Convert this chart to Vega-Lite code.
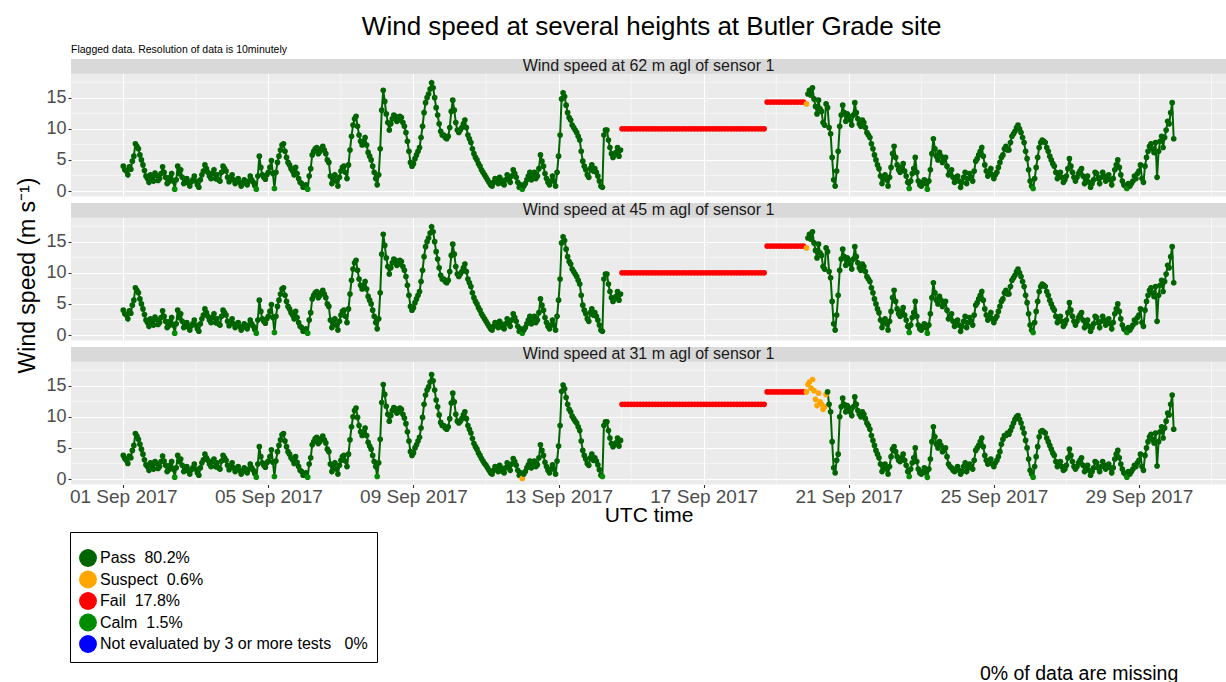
{
"$schema": "https://vega.github.io/schema/vega-lite/v6.json",
"background": "white",
"padding": {"left": 16, "top": 13, "right": 0, "bottom": 0},
"bounds": "flush",
"title": {"text": "Wind speed at several heights at Butler Grade site", "fontSize": 26, "anchor": "middle", "offset": 5, "dx": 30},
"config": {
 "font": "Liberation Sans",
 "view": {"fill": "#EBEBEB", "stroke": null},
 "axis": {"labelFont": "Liberation Sans", "labelFontSize": 18, "labelColor": "#4D4D4D", "tickColor": "#333333", "tickSize": 3, "tickWidth": 1.1, "domain": false, "gridColor": "#FFFFFF", "gridWidth": 1.1, "titleFont": "Liberation Sans", "titleFontSize": 21, "titleFontWeight": "normal", "titleColor": "#000000"},
 "title": {"font": "Liberation Sans", "fontWeight": "normal", "color": "#000000"},
 "legend": {"labelFont": "Liberation Sans", "titleFont": "Liberation Sans"}
},
"spacing": 6,
"resolve": {"scale": {"x": "shared", "y": "shared", "color": "shared"}},
"datasets": {
 "hminor": [{"y": 2.5}, {"y": 7.5}, {"y": 12.5}, {"y": 17.5}],
 "vminor": [{"t": "2017-09-03T00:00Z"}, {"t": "2017-09-07T00:00Z"}, {"t": "2017-09-11T00:00Z"}, {"t": "2017-09-15T00:00Z"}, {"t": "2017-09-19T00:00Z"}, {"t": "2017-09-23T00:00Z"}, {"t": "2017-09-27T00:00Z"}, {"t": "2017-10-01T00:00Z"}],
 "ws": [
{"t":"2017-09-01T00:00Z","a":4.0,"c":3.8,"f":"P","g":"P"},
{"t":"2017-09-01T01:00Z","a":3.4,"c":3.3,"f":"P","g":"P"},
{"t":"2017-09-01T02:00Z","a":3.2,"c":3.0,"f":"P","g":"P"},
{"t":"2017-09-01T03:00Z","a":2.6,"c":2.5,"f":"P","g":"P"},
{"t":"2017-09-01T04:00Z","a":3.9,"c":3.7,"f":"P","g":"P"},
{"t":"2017-09-01T05:00Z","a":3.5,"c":3.4,"f":"P","g":"P"},
{"t":"2017-09-01T06:00Z","a":4.8,"c":4.6,"f":"P","g":"P"},
{"t":"2017-09-01T07:00Z","a":5.6,"c":5.4,"f":"P","g":"P"},
{"t":"2017-09-01T08:00Z","a":7.6,"c":7.3,"f":"P","g":"P"},
{"t":"2017-09-01T09:00Z","a":7.2,"c":6.9,"f":"P","g":"P"},
{"t":"2017-09-01T10:00Z","a":6.8,"c":6.4,"f":"P","g":"P"},
{"t":"2017-09-01T11:00Z","a":5.8,"c":5.6,"f":"P","g":"P"},
{"t":"2017-09-01T12:00Z","a":5.0,"c":4.8,"f":"P","g":"P"},
{"t":"2017-09-01T13:00Z","a":4.2,"c":4.0,"f":"P","g":"P"},
{"t":"2017-09-01T14:00Z","a":3.3,"c":3.1,"f":"P","g":"P"},
{"t":"2017-09-01T15:00Z","a":2.4,"c":2.3,"f":"P","g":"P"},
{"t":"2017-09-01T16:00Z","a":2.0,"c":2.0,"f":"P","g":"P"},
{"t":"2017-09-01T17:00Z","a":1.4,"c":1.4,"f":"P","g":"P"},
{"t":"2017-09-01T18:00Z","a":2.6,"c":2.6,"f":"P","g":"P"},
{"t":"2017-09-01T19:00Z","a":2.2,"c":2.2,"f":"P","g":"P"},
{"t":"2017-09-01T20:00Z","a":1.6,"c":1.6,"f":"P","g":"P"},
{"t":"2017-09-01T21:00Z","a":2.9,"c":2.8,"f":"P","g":"P"},
{"t":"2017-09-01T22:00Z","a":2.5,"c":2.5,"f":"P","g":"P"},
{"t":"2017-09-01T23:00Z","a":1.7,"c":1.7,"f":"P","g":"P"},
{"t":"2017-09-02T00:00Z","a":2.0,"c":2.0,"f":"P","g":"P"},
{"t":"2017-09-02T01:00Z","a":2.8,"c":2.8,"f":"P","g":"P"},
{"t":"2017-09-02T02:00Z","a":3.9,"c":3.7,"f":"P","g":"P"},
{"t":"2017-09-02T03:00Z","a":3.0,"c":2.9,"f":"P","g":"P"},
{"t":"2017-09-02T04:00Z","a":2.2,"c":2.2,"f":"P","g":"P"},
{"t":"2017-09-02T05:00Z","a":1.2,"c":1.2,"f":"P","g":"P"},
{"t":"2017-09-02T06:00Z","a":1.5,"c":1.5,"f":"P","g":"P"},
{"t":"2017-09-02T07:00Z","a":2.2,"c":2.2,"f":"P","g":"P"},
{"t":"2017-09-02T08:00Z","a":2.8,"c":2.8,"f":"P","g":"P"},
{"t":"2017-09-02T09:00Z","a":1.6,"c":1.6,"f":"P","g":"P"},
{"t":"2017-09-02T10:00Z","a":0.3,"c":0.3,"f":"C","g":"C"},
{"t":"2017-09-02T11:00Z","a":1.8,"c":1.8,"f":"P","g":"P"},
{"t":"2017-09-02T12:00Z","a":4.0,"c":3.8,"f":"P","g":"P"},
{"t":"2017-09-02T13:00Z","a":2.8,"c":2.8,"f":"P","g":"P"},
{"t":"2017-09-02T14:00Z","a":3.4,"c":3.2,"f":"P","g":"P"},
{"t":"2017-09-02T15:00Z","a":2.2,"c":2.2,"f":"P","g":"P"},
{"t":"2017-09-02T16:00Z","a":1.2,"c":1.2,"f":"P","g":"P"},
{"t":"2017-09-02T17:00Z","a":1.6,"c":1.6,"f":"P","g":"P"},
{"t":"2017-09-02T18:00Z","a":2.0,"c":2.0,"f":"P","g":"P"},
{"t":"2017-09-02T19:00Z","a":1.3,"c":1.3,"f":"P","g":"P"},
{"t":"2017-09-02T20:00Z","a":0.8,"c":0.8,"f":"P","g":"P"},
{"t":"2017-09-02T21:00Z","a":1.5,"c":1.5,"f":"P","g":"P"},
{"t":"2017-09-02T22:00Z","a":1.8,"c":1.8,"f":"P","g":"P"},
{"t":"2017-09-02T23:00Z","a":2.4,"c":2.4,"f":"P","g":"P"},
{"t":"2017-09-03T00:00Z","a":1.6,"c":1.6,"f":"P","g":"P"},
{"t":"2017-09-03T01:00Z","a":1.0,"c":1.0,"f":"P","g":"P"},
{"t":"2017-09-03T02:00Z","a":0.6,"c":0.6,"f":"P","g":"P"},
{"t":"2017-09-03T03:00Z","a":1.8,"c":1.8,"f":"P","g":"P"},
{"t":"2017-09-03T04:00Z","a":2.6,"c":2.6,"f":"P","g":"P"},
{"t":"2017-09-03T05:00Z","a":3.2,"c":3.1,"f":"P","g":"P"},
{"t":"2017-09-03T06:00Z","a":4.2,"c":4.0,"f":"P","g":"P"},
{"t":"2017-09-03T07:00Z","a":3.6,"c":3.4,"f":"P","g":"P"},
{"t":"2017-09-03T08:00Z","a":3.0,"c":3.0,"f":"P","g":"P"},
{"t":"2017-09-03T09:00Z","a":2.4,"c":2.4,"f":"P","g":"P"},
{"t":"2017-09-03T10:00Z","a":2.0,"c":2.0,"f":"P","g":"P"},
{"t":"2017-09-03T11:00Z","a":2.8,"c":2.8,"f":"P","g":"P"},
{"t":"2017-09-03T12:00Z","a":3.4,"c":3.2,"f":"P","g":"P"},
{"t":"2017-09-03T13:00Z","a":2.0,"c":2.0,"f":"P","g":"P"},
{"t":"2017-09-03T14:00Z","a":2.6,"c":2.6,"f":"P","g":"P"},
{"t":"2017-09-03T15:00Z","a":1.8,"c":1.8,"f":"P","g":"P"},
{"t":"2017-09-03T16:00Z","a":1.6,"c":1.6,"f":"P","g":"P"},
{"t":"2017-09-03T17:00Z","a":3.0,"c":2.9,"f":"P","g":"P"},
{"t":"2017-09-03T18:00Z","a":4.0,"c":3.8,"f":"P","g":"P"},
{"t":"2017-09-03T19:00Z","a":3.6,"c":3.4,"f":"P","g":"P"},
{"t":"2017-09-03T20:00Z","a":3.2,"c":3.0,"f":"P","g":"P"},
{"t":"2017-09-03T21:00Z","a":2.2,"c":2.2,"f":"P","g":"P"},
{"t":"2017-09-03T22:00Z","a":1.5,"c":1.5,"f":"P","g":"P"},
{"t":"2017-09-03T23:00Z","a":2.0,"c":2.0,"f":"P","g":"P"},
{"t":"2017-09-04T00:00Z","a":2.6,"c":2.6,"f":"P","g":"P"},
{"t":"2017-09-04T01:00Z","a":1.8,"c":1.8,"f":"P","g":"P"},
{"t":"2017-09-04T02:00Z","a":1.2,"c":1.2,"f":"P","g":"P"},
{"t":"2017-09-04T03:00Z","a":1.6,"c":1.6,"f":"P","g":"P"},
{"t":"2017-09-04T04:00Z","a":2.0,"c":2.0,"f":"P","g":"P"},
{"t":"2017-09-04T05:00Z","a":1.4,"c":1.4,"f":"P","g":"P"},
{"t":"2017-09-04T06:00Z","a":0.8,"c":0.8,"f":"P","g":"P"},
{"t":"2017-09-04T07:00Z","a":1.2,"c":1.2,"f":"P","g":"P"},
{"t":"2017-09-04T08:00Z","a":1.8,"c":1.8,"f":"P","g":"P"},
{"t":"2017-09-04T09:00Z","a":1.4,"c":1.4,"f":"P","g":"P"},
{"t":"2017-09-04T10:00Z","a":1.0,"c":1.0,"f":"P","g":"P"},
{"t":"2017-09-04T11:00Z","a":1.6,"c":1.6,"f":"P","g":"P"},
{"t":"2017-09-04T12:00Z","a":2.4,"c":2.4,"f":"P","g":"P"},
{"t":"2017-09-04T13:00Z","a":1.8,"c":1.8,"f":"P","g":"P"},
{"t":"2017-09-04T14:00Z","a":1.4,"c":1.4,"f":"P","g":"P"},
{"t":"2017-09-04T15:00Z","a":0.9,"c":0.9,"f":"P","g":"P"},
{"t":"2017-09-04T16:00Z","a":0.3,"c":0.3,"f":"C","g":"C"},
{"t":"2017-09-04T17:00Z","a":2.4,"c":2.4,"f":"P","g":"P"},
{"t":"2017-09-04T18:00Z","a":5.6,"c":5.2,"f":"P","g":"P"},
{"t":"2017-09-04T19:00Z","a":3.8,"c":3.6,"f":"P","g":"P"},
{"t":"2017-09-04T20:00Z","a":2.6,"c":2.6,"f":"P","g":"P"},
{"t":"2017-09-04T21:00Z","a":2.2,"c":2.2,"f":"P","g":"P"},
{"t":"2017-09-04T22:00Z","a":1.9,"c":1.9,"f":"P","g":"P"},
{"t":"2017-09-04T23:00Z","a":2.6,"c":2.6,"f":"P","g":"P"},
{"t":"2017-09-05T00:00Z","a":3.0,"c":2.9,"f":"P","g":"P"},
{"t":"2017-09-05T01:00Z","a":3.8,"c":3.6,"f":"P","g":"P"},
{"t":"2017-09-05T02:00Z","a":4.9,"c":4.7,"f":"P","g":"P"},
{"t":"2017-09-05T03:00Z","a":2.8,"c":2.7,"f":"P","g":"P"},
{"t":"2017-09-05T04:00Z","a":0.4,"c":0.4,"f":"C","g":"C"},
{"t":"2017-09-05T05:00Z","a":3.0,"c":2.9,"f":"P","g":"P"},
{"t":"2017-09-05T06:00Z","a":4.6,"c":4.4,"f":"P","g":"P"},
{"t":"2017-09-05T07:00Z","a":5.6,"c":5.4,"f":"P","g":"P"},
{"t":"2017-09-05T08:00Z","a":6.6,"c":6.3,"f":"P","g":"P"},
{"t":"2017-09-05T09:00Z","a":7.4,"c":7.1,"f":"P","g":"P"},
{"t":"2017-09-05T10:00Z","a":7.6,"c":7.3,"f":"P","g":"P"},
{"t":"2017-09-05T11:00Z","a":6.4,"c":6.1,"f":"P","g":"P"},
{"t":"2017-09-05T12:00Z","a":5.4,"c":5.2,"f":"P","g":"P"},
{"t":"2017-09-05T13:00Z","a":4.6,"c":4.4,"f":"P","g":"P"},
{"t":"2017-09-05T14:00Z","a":4.2,"c":4.0,"f":"P","g":"P"},
{"t":"2017-09-05T15:00Z","a":3.6,"c":3.4,"f":"P","g":"P"},
{"t":"2017-09-05T16:00Z","a":3.2,"c":3.1,"f":"P","g":"P"},
{"t":"2017-09-05T17:00Z","a":2.6,"c":2.5,"f":"P","g":"P"},
{"t":"2017-09-05T18:00Z","a":3.8,"c":3.6,"f":"P","g":"P"},
{"t":"2017-09-05T19:00Z","a":2.8,"c":2.7,"f":"P","g":"P"},
{"t":"2017-09-05T20:00Z","a":2.0,"c":2.0,"f":"P","g":"P"},
{"t":"2017-09-05T21:00Z","a":1.4,"c":1.4,"f":"P","g":"P"},
{"t":"2017-09-05T22:00Z","a":1.2,"c":1.2,"f":"P","g":"P"},
{"t":"2017-09-05T23:00Z","a":0.6,"c":0.6,"f":"P","g":"P"},
{"t":"2017-09-06T00:00Z","a":0.6,"c":0.6,"f":"P","g":"P"},
{"t":"2017-09-06T01:00Z","a":1.0,"c":1.0,"f":"P","g":"P"},
{"t":"2017-09-06T02:00Z","a":0.3,"c":0.3,"f":"C","g":"C"},
{"t":"2017-09-06T03:00Z","a":2.4,"c":2.4,"f":"P","g":"P"},
{"t":"2017-09-06T04:00Z","a":3.6,"c":3.4,"f":"P","g":"P"},
{"t":"2017-09-06T05:00Z","a":5.8,"c":5.5,"f":"P","g":"P"},
{"t":"2017-09-06T06:00Z","a":6.4,"c":6.0,"f":"P","g":"P"},
{"t":"2017-09-06T07:00Z","a":6.8,"c":6.5,"f":"P","g":"P"},
{"t":"2017-09-06T08:00Z","a":7.0,"c":6.7,"f":"P","g":"P"},
{"t":"2017-09-06T09:00Z","a":6.0,"c":5.7,"f":"P","g":"P"},
{"t":"2017-09-06T10:00Z","a":6.3,"c":6.0,"f":"P","g":"P"},
{"t":"2017-09-06T11:00Z","a":6.8,"c":6.5,"f":"P","g":"P"},
{"t":"2017-09-06T12:00Z","a":7.2,"c":6.9,"f":"P","g":"P"},
{"t":"2017-09-06T13:00Z","a":6.6,"c":6.3,"f":"P","g":"P"},
{"t":"2017-09-06T14:00Z","a":6.0,"c":5.8,"f":"P","g":"P"},
{"t":"2017-09-06T15:00Z","a":5.0,"c":4.8,"f":"P","g":"P"},
{"t":"2017-09-06T16:00Z","a":4.6,"c":4.4,"f":"P","g":"P"},
{"t":"2017-09-06T17:00Z","a":2.4,"c":2.4,"f":"P","g":"P"},
{"t":"2017-09-06T18:00Z","a":1.2,"c":1.2,"f":"P","g":"P"},
{"t":"2017-09-06T19:00Z","a":1.8,"c":1.8,"f":"P","g":"P"},
{"t":"2017-09-06T20:00Z","a":2.6,"c":2.6,"f":"P","g":"P"},
{"t":"2017-09-06T21:00Z","a":1.6,"c":1.6,"f":"P","g":"P"},
{"t":"2017-09-06T22:00Z","a":0.8,"c":0.8,"f":"P","g":"P"},
{"t":"2017-09-06T23:00Z","a":2.2,"c":2.2,"f":"P","g":"P"},
{"t":"2017-09-07T00:00Z","a":3.2,"c":3.0,"f":"P","g":"P"},
{"t":"2017-09-07T01:00Z","a":3.8,"c":3.6,"f":"P","g":"P"},
{"t":"2017-09-07T02:00Z","a":4.0,"c":3.8,"f":"P","g":"P"},
{"t":"2017-09-07T03:00Z","a":3.0,"c":2.9,"f":"P","g":"P"},
{"t":"2017-09-07T04:00Z","a":2.0,"c":2.0,"f":"P","g":"P"},
{"t":"2017-09-07T05:00Z","a":4.2,"c":4.0,"f":"P","g":"P"},
{"t":"2017-09-07T06:00Z","a":6.6,"c":6.3,"f":"P","g":"P"},
{"t":"2017-09-07T07:00Z","a":8.8,"c":8.4,"f":"P","g":"P"},
{"t":"2017-09-07T08:00Z","a":10.6,"c":10.0,"f":"P","g":"P"},
{"t":"2017-09-07T09:00Z","a":11.6,"c":11.0,"f":"P","g":"P"},
{"t":"2017-09-07T10:00Z","a":12.0,"c":11.4,"f":"P","g":"P"},
{"t":"2017-09-07T11:00Z","a":10.4,"c":9.9,"f":"P","g":"P"},
{"t":"2017-09-07T12:00Z","a":9.0,"c":8.6,"f":"P","g":"P"},
{"t":"2017-09-07T13:00Z","a":8.0,"c":7.6,"f":"P","g":"P"},
{"t":"2017-09-07T14:00Z","a":7.4,"c":7.0,"f":"P","g":"P"},
{"t":"2017-09-07T15:00Z","a":8.0,"c":7.6,"f":"P","g":"P"},
{"t":"2017-09-07T16:00Z","a":8.6,"c":8.2,"f":"P","g":"P"},
{"t":"2017-09-07T17:00Z","a":7.4,"c":7.0,"f":"P","g":"P"},
{"t":"2017-09-07T18:00Z","a":6.2,"c":5.9,"f":"P","g":"P"},
{"t":"2017-09-07T19:00Z","a":5.6,"c":5.3,"f":"P","g":"P"},
{"t":"2017-09-07T20:00Z","a":5.0,"c":4.8,"f":"P","g":"P"},
{"t":"2017-09-07T21:00Z","a":4.0,"c":3.8,"f":"P","g":"P"},
{"t":"2017-09-07T22:00Z","a":3.0,"c":2.8,"f":"P","g":"P"},
{"t":"2017-09-07T23:00Z","a":2.0,"c":2.0,"f":"P","g":"P"},
{"t":"2017-09-08T00:00Z","a":1.0,"c":0.4,"f":"P","g":"C"},
{"t":"2017-09-08T01:00Z","a":2.6,"c":2.6,"f":"P","g":"P"},
{"t":"2017-09-08T02:00Z","a":6.8,"c":6.4,"f":"P","g":"P"},
{"t":"2017-09-08T03:00Z","a":13.0,"c":12.3,"f":"P","g":"P"},
{"t":"2017-09-08T04:00Z","a":16.2,"c":15.2,"f":"P","g":"P"},
{"t":"2017-09-08T05:00Z","a":14.4,"c":13.6,"f":"P","g":"P"},
{"t":"2017-09-08T06:00Z","a":12.4,"c":11.7,"f":"P","g":"P"},
{"t":"2017-09-08T07:00Z","a":11.0,"c":10.4,"f":"P","g":"P"},
{"t":"2017-09-08T08:00Z","a":9.8,"c":9.3,"f":"P","g":"P"},
{"t":"2017-09-08T09:00Z","a":10.8,"c":10.2,"f":"P","g":"P"},
{"t":"2017-09-08T10:00Z","a":11.6,"c":11.0,"f":"P","g":"P"},
{"t":"2017-09-08T11:00Z","a":12.2,"c":11.5,"f":"P","g":"P"},
{"t":"2017-09-08T12:00Z","a":12.0,"c":11.3,"f":"P","g":"P"},
{"t":"2017-09-08T13:00Z","a":11.2,"c":10.6,"f":"P","g":"P"},
{"t":"2017-09-08T14:00Z","a":11.4,"c":10.8,"f":"P","g":"P"},
{"t":"2017-09-08T15:00Z","a":12.0,"c":11.4,"f":"P","g":"P"},
{"t":"2017-09-08T16:00Z","a":11.8,"c":11.2,"f":"P","g":"P"},
{"t":"2017-09-08T17:00Z","a":11.0,"c":10.4,"f":"P","g":"P"},
{"t":"2017-09-08T18:00Z","a":10.4,"c":9.8,"f":"P","g":"P"},
{"t":"2017-09-08T19:00Z","a":9.4,"c":8.9,"f":"P","g":"P"},
{"t":"2017-09-08T20:00Z","a":8.0,"c":7.6,"f":"P","g":"P"},
{"t":"2017-09-08T21:00Z","a":6.4,"c":6.1,"f":"P","g":"P"},
{"t":"2017-09-08T22:00Z","a":4.6,"c":4.4,"f":"P","g":"P"},
{"t":"2017-09-08T23:00Z","a":4.0,"c":3.8,"f":"P","g":"P"},
{"t":"2017-09-09T00:00Z","a":4.4,"c":4.2,"f":"P","g":"P"},
{"t":"2017-09-09T01:00Z","a":5.2,"c":5.0,"f":"P","g":"P"},
{"t":"2017-09-09T02:00Z","a":5.8,"c":5.5,"f":"P","g":"P"},
{"t":"2017-09-09T03:00Z","a":6.4,"c":6.1,"f":"P","g":"P"},
{"t":"2017-09-09T04:00Z","a":7.0,"c":6.7,"f":"P","g":"P"},
{"t":"2017-09-09T05:00Z","a":8.6,"c":8.2,"f":"P","g":"P"},
{"t":"2017-09-09T06:00Z","a":10.4,"c":9.9,"f":"P","g":"P"},
{"t":"2017-09-09T07:00Z","a":12.6,"c":12.0,"f":"P","g":"P"},
{"t":"2017-09-09T08:00Z","a":14.2,"c":13.5,"f":"P","g":"P"},
{"t":"2017-09-09T09:00Z","a":15.0,"c":14.3,"f":"P","g":"P"},
{"t":"2017-09-09T10:00Z","a":15.6,"c":14.8,"f":"P","g":"P"},
{"t":"2017-09-09T11:00Z","a":16.4,"c":15.6,"f":"P","g":"P"},
{"t":"2017-09-09T12:00Z","a":17.4,"c":16.8,"f":"P","g":"P"},
{"t":"2017-09-09T13:00Z","a":16.6,"c":15.8,"f":"P","g":"P"},
{"t":"2017-09-09T14:00Z","a":15.0,"c":14.3,"f":"P","g":"P"},
{"t":"2017-09-09T15:00Z","a":13.4,"c":12.7,"f":"P","g":"P"},
{"t":"2017-09-09T16:00Z","a":12.2,"c":11.6,"f":"P","g":"P"},
{"t":"2017-09-09T17:00Z","a":10.8,"c":10.3,"f":"P","g":"P"},
{"t":"2017-09-09T18:00Z","a":9.6,"c":9.1,"f":"P","g":"P"},
{"t":"2017-09-09T19:00Z","a":9.0,"c":8.6,"f":"P","g":"P"},
{"t":"2017-09-09T20:00Z","a":9.0,"c":8.6,"f":"P","g":"P"},
{"t":"2017-09-09T21:00Z","a":8.6,"c":8.2,"f":"P","g":"P"},
{"t":"2017-09-09T22:00Z","a":8.4,"c":8.0,"f":"P","g":"P"},
{"t":"2017-09-09T23:00Z","a":8.8,"c":8.4,"f":"P","g":"P"},
{"t":"2017-09-10T00:00Z","a":10.2,"c":9.7,"f":"P","g":"P"},
{"t":"2017-09-10T01:00Z","a":12.8,"c":12.2,"f":"P","g":"P"},
{"t":"2017-09-10T02:00Z","a":14.6,"c":13.8,"f":"P","g":"P"},
{"t":"2017-09-10T03:00Z","a":13.0,"c":12.4,"f":"P","g":"P"},
{"t":"2017-09-10T04:00Z","a":11.0,"c":10.4,"f":"P","g":"P"},
{"t":"2017-09-10T05:00Z","a":9.8,"c":9.3,"f":"P","g":"P"},
{"t":"2017-09-10T06:00Z","a":9.4,"c":9.0,"f":"P","g":"P"},
{"t":"2017-09-10T07:00Z","a":9.8,"c":9.3,"f":"P","g":"P"},
{"t":"2017-09-10T08:00Z","a":10.2,"c":9.7,"f":"P","g":"P"},
{"t":"2017-09-10T09:00Z","a":10.8,"c":10.3,"f":"P","g":"P"},
{"t":"2017-09-10T10:00Z","a":11.4,"c":10.8,"f":"P","g":"P"},
{"t":"2017-09-10T11:00Z","a":10.2,"c":9.7,"f":"P","g":"P"},
{"t":"2017-09-10T12:00Z","a":9.0,"c":8.6,"f":"P","g":"P"},
{"t":"2017-09-10T13:00Z","a":8.4,"c":8.0,"f":"P","g":"P"},
{"t":"2017-09-10T14:00Z","a":7.8,"c":7.4,"f":"P","g":"P"},
{"t":"2017-09-10T15:00Z","a":6.8,"c":6.5,"f":"P","g":"P"},
{"t":"2017-09-10T16:00Z","a":6.0,"c":5.7,"f":"P","g":"P"},
{"t":"2017-09-10T17:00Z","a":5.4,"c":5.2,"f":"P","g":"P"},
{"t":"2017-09-10T18:00Z","a":5.0,"c":4.8,"f":"P","g":"P"},
{"t":"2017-09-10T19:00Z","a":4.4,"c":4.2,"f":"P","g":"P"},
{"t":"2017-09-10T20:00Z","a":4.0,"c":3.8,"f":"P","g":"P"},
{"t":"2017-09-10T21:00Z","a":3.4,"c":3.3,"f":"P","g":"P"},
{"t":"2017-09-10T22:00Z","a":3.0,"c":2.9,"f":"P","g":"P"},
{"t":"2017-09-10T23:00Z","a":2.6,"c":2.5,"f":"P","g":"P"},
{"t":"2017-09-11T00:00Z","a":2.2,"c":2.2,"f":"P","g":"P"},
{"t":"2017-09-11T01:00Z","a":1.8,"c":1.8,"f":"P","g":"P"},
{"t":"2017-09-11T02:00Z","a":1.4,"c":1.4,"f":"P","g":"P"},
{"t":"2017-09-11T03:00Z","a":1.0,"c":1.0,"f":"P","g":"P"},
{"t":"2017-09-11T04:00Z","a":0.8,"c":0.8,"f":"P","g":"P"},
{"t":"2017-09-11T05:00Z","a":1.4,"c":1.4,"f":"P","g":"P"},
{"t":"2017-09-11T06:00Z","a":2.0,"c":2.0,"f":"P","g":"P"},
{"t":"2017-09-11T07:00Z","a":1.6,"c":1.6,"f":"P","g":"P"},
{"t":"2017-09-11T08:00Z","a":1.2,"c":1.2,"f":"P","g":"P"},
{"t":"2017-09-11T09:00Z","a":2.2,"c":2.2,"f":"P","g":"P"},
{"t":"2017-09-11T10:00Z","a":1.8,"c":1.8,"f":"P","g":"P"},
{"t":"2017-09-11T11:00Z","a":1.2,"c":1.2,"f":"P","g":"P"},
{"t":"2017-09-11T12:00Z","a":1.0,"c":1.0,"f":"P","g":"P"},
{"t":"2017-09-11T13:00Z","a":1.8,"c":1.8,"f":"P","g":"P"},
{"t":"2017-09-11T14:00Z","a":2.6,"c":2.6,"f":"P","g":"P"},
{"t":"2017-09-11T15:00Z","a":2.0,"c":2.0,"f":"P","g":"P"},
{"t":"2017-09-11T16:00Z","a":1.4,"c":1.4,"f":"P","g":"P"},
{"t":"2017-09-11T17:00Z","a":2.4,"c":2.4,"f":"P","g":"P"},
{"t":"2017-09-11T18:00Z","a":3.4,"c":3.3,"f":"P","g":"P"},
{"t":"2017-09-11T19:00Z","a":2.8,"c":2.8,"f":"P","g":"P"},
{"t":"2017-09-11T20:00Z","a":2.2,"c":2.2,"f":"P","g":"P"},
{"t":"2017-09-11T21:00Z","a":1.4,"c":1.4,"f":"P","g":"P"},
{"t":"2017-09-11T22:00Z","a":0.6,"c":0.6,"f":"P","g":"P"},
{"t":"2017-09-11T23:00Z","a":1.0,"c":1.0,"f":"P","g":"P"},
{"t":"2017-09-12T00:00Z","a":0.3,"c":0.1,"f":"C","g":"S"},
{"t":"2017-09-12T01:00Z","a":0.8,"c":0.8,"f":"P","g":"P"},
{"t":"2017-09-12T02:00Z","a":1.2,"c":1.2,"f":"P","g":"P"},
{"t":"2017-09-12T03:00Z","a":1.8,"c":1.8,"f":"P","g":"P"},
{"t":"2017-09-12T04:00Z","a":2.4,"c":2.3,"f":"P","g":"P"},
{"t":"2017-09-12T05:00Z","a":3.0,"c":2.9,"f":"P","g":"P"},
{"t":"2017-09-12T06:00Z","a":1.8,"c":1.8,"f":"P","g":"P"},
{"t":"2017-09-12T07:00Z","a":2.6,"c":2.5,"f":"P","g":"P"},
{"t":"2017-09-12T08:00Z","a":3.0,"c":2.9,"f":"P","g":"P"},
{"t":"2017-09-12T09:00Z","a":2.0,"c":2.0,"f":"P","g":"P"},
{"t":"2017-09-12T10:00Z","a":2.4,"c":2.3,"f":"P","g":"P"},
{"t":"2017-09-12T11:00Z","a":3.6,"c":3.4,"f":"P","g":"P"},
{"t":"2017-09-12T12:00Z","a":5.8,"c":5.5,"f":"P","g":"P"},
{"t":"2017-09-12T13:00Z","a":4.8,"c":4.6,"f":"P","g":"P"},
{"t":"2017-09-12T14:00Z","a":4.0,"c":3.8,"f":"P","g":"P"},
{"t":"2017-09-12T15:00Z","a":2.8,"c":2.7,"f":"P","g":"P"},
{"t":"2017-09-12T16:00Z","a":2.0,"c":2.0,"f":"P","g":"P"},
{"t":"2017-09-12T17:00Z","a":1.4,"c":1.4,"f":"P","g":"P"},
{"t":"2017-09-12T18:00Z","a":1.0,"c":1.0,"f":"P","g":"P"},
{"t":"2017-09-12T19:00Z","a":1.6,"c":1.6,"f":"P","g":"P"},
{"t":"2017-09-12T20:00Z","a":2.4,"c":2.3,"f":"P","g":"P"},
{"t":"2017-09-12T21:00Z","a":1.6,"c":1.6,"f":"P","g":"P"},
{"t":"2017-09-12T22:00Z","a":0.8,"c":0.8,"f":"P","g":"P"},
{"t":"2017-09-12T23:00Z","a":3.0,"c":2.9,"f":"P","g":"P"},
{"t":"2017-09-13T00:00Z","a":5.6,"c":5.3,"f":"P","g":"P"},
{"t":"2017-09-13T01:00Z","a":9.0,"c":8.6,"f":"P","g":"P"},
{"t":"2017-09-13T02:00Z","a":14.8,"c":14.1,"f":"P","g":"P"},
{"t":"2017-09-13T03:00Z","a":15.8,"c":15.1,"f":"P","g":"P"},
{"t":"2017-09-13T04:00Z","a":15.2,"c":14.5,"f":"P","g":"P"},
{"t":"2017-09-13T05:00Z","a":13.8,"c":13.1,"f":"P","g":"P"},
{"t":"2017-09-13T06:00Z","a":12.6,"c":12.0,"f":"P","g":"P"},
{"t":"2017-09-13T07:00Z","a":11.8,"c":11.2,"f":"P","g":"P"},
{"t":"2017-09-13T08:00Z","a":11.4,"c":10.8,"f":"P","g":"P"},
{"t":"2017-09-13T09:00Z","a":10.6,"c":10.1,"f":"P","g":"P"},
{"t":"2017-09-13T10:00Z","a":10.2,"c":9.7,"f":"P","g":"P"},
{"t":"2017-09-13T11:00Z","a":9.8,"c":9.3,"f":"P","g":"P"},
{"t":"2017-09-13T12:00Z","a":9.4,"c":9.0,"f":"P","g":"P"},
{"t":"2017-09-13T13:00Z","a":8.8,"c":8.4,"f":"P","g":"P"},
{"t":"2017-09-13T14:00Z","a":8.2,"c":7.8,"f":"P","g":"P"},
{"t":"2017-09-13T15:00Z","a":6.4,"c":6.1,"f":"P","g":"P"},
{"t":"2017-09-13T16:00Z","a":4.8,"c":4.6,"f":"P","g":"P"},
{"t":"2017-09-13T17:00Z","a":4.0,"c":3.8,"f":"P","g":"P"},
{"t":"2017-09-13T18:00Z","a":3.4,"c":3.2,"f":"P","g":"P"},
{"t":"2017-09-13T19:00Z","a":2.6,"c":2.5,"f":"P","g":"P"},
{"t":"2017-09-13T20:00Z","a":2.2,"c":2.2,"f":"P","g":"P"},
{"t":"2017-09-13T21:00Z","a":3.6,"c":3.4,"f":"P","g":"P"},
{"t":"2017-09-13T22:00Z","a":4.2,"c":4.0,"f":"P","g":"P"},
{"t":"2017-09-13T23:00Z","a":3.2,"c":3.0,"f":"P","g":"P"},
{"t":"2017-09-14T00:00Z","a":3.6,"c":3.4,"f":"P","g":"P"},
{"t":"2017-09-14T01:00Z","a":3.0,"c":2.9,"f":"P","g":"P"},
{"t":"2017-09-14T02:00Z","a":2.4,"c":2.3,"f":"P","g":"P"},
{"t":"2017-09-14T03:00Z","a":1.6,"c":1.5,"f":"P","g":"P"},
{"t":"2017-09-14T04:00Z","a":0.8,"c":0.6,"f":"P","g":"P"},
{"t":"2017-09-14T05:00Z","a":0.6,"c":0.4,"f":"P","g":"C"},
{"t":"2017-09-14T06:00Z","a":9.0,"c":8.6,"f":"P","g":"P"},
{"t":"2017-09-14T07:00Z","a":9.8,"c":9.2,"f":"P","g":"P"},
{"t":"2017-09-14T08:00Z","a":9.8,"c":9.2,"f":"P","g":"P"},
{"t":"2017-09-14T09:00Z","a":8.2,"c":7.8,"f":"P","g":"P"},
{"t":"2017-09-14T10:00Z","a":7.0,"c":6.6,"f":"P","g":"P"},
{"t":"2017-09-14T11:00Z","a":6.0,"c":5.7,"f":"P","g":"P"},
{"t":"2017-09-14T12:00Z","a":5.4,"c":5.2,"f":"P","g":"P"},
{"t":"2017-09-14T13:00Z","a":5.8,"c":5.5,"f":"P","g":"P"},
{"t":"2017-09-14T14:00Z","a":6.2,"c":5.8,"f":"P","g":"P"},
{"t":"2017-09-14T15:00Z","a":7.0,"c":6.6,"f":"P","g":"P"},
{"t":"2017-09-14T16:00Z","a":5.6,"c":5.3,"f":"P","g":"P"},
{"t":"2017-09-14T17:00Z","a":6.6,"c":6.2,"f":"P","g":"P"},
{"t":"2017-09-14T18:00Z","a":10.0,"c":12.0,"f":"F","g":"F"},
{"t":"2017-09-14T20:00Z","a":10.0,"c":12.0,"f":"F","g":"F"},
{"t":"2017-09-14T22:00Z","a":10.0,"c":12.0,"f":"F","g":"F"},
{"t":"2017-09-15T00:00Z","a":10.0,"c":12.0,"f":"F","g":"F"},
{"t":"2017-09-15T02:00Z","a":10.0,"c":12.0,"f":"F","g":"F"},
{"t":"2017-09-15T04:00Z","a":10.0,"c":12.0,"f":"F","g":"F"},
{"t":"2017-09-15T06:00Z","a":10.0,"c":12.0,"f":"F","g":"F"},
{"t":"2017-09-15T08:00Z","a":10.0,"c":12.0,"f":"F","g":"F"},
{"t":"2017-09-15T10:00Z","a":10.0,"c":12.0,"f":"F","g":"F"},
{"t":"2017-09-15T12:00Z","a":10.0,"c":12.0,"f":"F","g":"F"},
{"t":"2017-09-15T14:00Z","a":10.0,"c":12.0,"f":"F","g":"F"},
{"t":"2017-09-15T16:00Z","a":10.0,"c":12.0,"f":"F","g":"F"},
{"t":"2017-09-15T18:00Z","a":10.0,"c":12.0,"f":"F","g":"F"},
{"t":"2017-09-15T20:00Z","a":10.0,"c":12.0,"f":"F","g":"F"},
{"t":"2017-09-15T22:00Z","a":10.0,"c":12.0,"f":"F","g":"F"},
{"t":"2017-09-16T00:00Z","a":10.0,"c":12.0,"f":"F","g":"F"},
{"t":"2017-09-16T02:00Z","a":10.0,"c":12.0,"f":"F","g":"F"},
{"t":"2017-09-16T04:00Z","a":10.0,"c":12.0,"f":"F","g":"F"},
{"t":"2017-09-16T06:00Z","a":10.0,"c":12.0,"f":"F","g":"F"},
{"t":"2017-09-16T08:00Z","a":10.0,"c":12.0,"f":"F","g":"F"},
{"t":"2017-09-16T10:00Z","a":10.0,"c":12.0,"f":"F","g":"F"},
{"t":"2017-09-16T12:00Z","a":10.0,"c":12.0,"f":"F","g":"F"},
{"t":"2017-09-16T14:00Z","a":10.0,"c":12.0,"f":"F","g":"F"},
{"t":"2017-09-16T16:00Z","a":10.0,"c":12.0,"f":"F","g":"F"},
{"t":"2017-09-16T18:00Z","a":10.0,"c":12.0,"f":"F","g":"F"},
{"t":"2017-09-16T20:00Z","a":10.0,"c":12.0,"f":"F","g":"F"},
{"t":"2017-09-16T22:00Z","a":10.0,"c":12.0,"f":"F","g":"F"},
{"t":"2017-09-17T00:00Z","a":10.0,"c":12.0,"f":"F","g":"F"},
{"t":"2017-09-17T02:00Z","a":10.0,"c":12.0,"f":"F","g":"F"},
{"t":"2017-09-17T04:00Z","a":10.0,"c":12.0,"f":"F","g":"F"},
{"t":"2017-09-17T06:00Z","a":10.0,"c":12.0,"f":"F","g":"F"},
{"t":"2017-09-17T08:00Z","a":10.0,"c":12.0,"f":"F","g":"F"},
{"t":"2017-09-17T10:00Z","a":10.0,"c":12.0,"f":"F","g":"F"},
{"t":"2017-09-17T12:00Z","a":10.0,"c":12.0,"f":"F","g":"F"},
{"t":"2017-09-17T14:00Z","a":10.0,"c":12.0,"f":"F","g":"F"},
{"t":"2017-09-17T16:00Z","a":10.0,"c":12.0,"f":"F","g":"F"},
{"t":"2017-09-17T18:00Z","a":10.0,"c":12.0,"f":"F","g":"F"},
{"t":"2017-09-17T20:00Z","a":10.0,"c":12.0,"f":"F","g":"F"},
{"t":"2017-09-17T22:00Z","a":10.0,"c":12.0,"f":"F","g":"F"},
{"t":"2017-09-18T00:00Z","a":10.0,"c":12.0,"f":"F","g":"F"},
{"t":"2017-09-18T02:00Z","a":10.0,"c":12.0,"f":"F","g":"F"},
{"t":"2017-09-18T04:00Z","a":10.0,"c":12.0,"f":"F","g":"F"},
{"t":"2017-09-18T06:00Z","a":10.0,"c":12.0,"f":"F","g":"F"},
{"t":"2017-09-18T08:00Z","a":10.0,"c":12.0,"f":"F","g":"F"},
{"t":"2017-09-18T10:00Z","a":10.0,"c":12.0,"f":"F","g":"F"},
{"t":"2017-09-18T12:00Z","a":10.0,"c":12.0,"f":"F","g":"F"},
{"t":"2017-09-18T14:00Z","a":10.0,"c":12.0,"f":"F","g":"F"},
{"t":"2017-09-18T16:00Z","a":10.0,"c":12.0,"f":"F","g":"F"},
{"t":"2017-09-18T18:00Z","a":14.3,"c":14.0,"f":"F","g":"F"},
{"t":"2017-09-18T20:00Z","a":14.3,"c":14.0,"f":"F","g":"F"},
{"t":"2017-09-18T22:00Z","a":14.3,"c":14.0,"f":"F","g":"F"},
{"t":"2017-09-19T00:00Z","a":14.3,"c":14.0,"f":"F","g":"F"},
{"t":"2017-09-19T02:00Z","a":14.3,"c":14.0,"f":"F","g":"F"},
{"t":"2017-09-19T04:00Z","a":14.3,"c":14.0,"f":"F","g":"F"},
{"t":"2017-09-19T06:00Z","a":14.3,"c":14.0,"f":"F","g":"F"},
{"t":"2017-09-19T08:00Z","a":14.3,"c":14.0,"f":"F","g":"F"},
{"t":"2017-09-19T10:00Z","a":14.3,"c":14.0,"f":"F","g":"F"},
{"t":"2017-09-19T12:00Z","a":14.3,"c":14.0,"f":"F","g":"F"},
{"t":"2017-09-19T14:00Z","a":14.3,"c":14.0,"f":"F","g":"F"},
{"t":"2017-09-19T16:00Z","a":14.3,"c":14.0,"f":"F","g":"F"},
{"t":"2017-09-19T18:00Z","a":14.3,"c":14.0,"f":"F","g":"F"},
{"t":"2017-09-19T20:00Z","a":14.0,"c":14.0,"f":"S","g":"S"},
{"t":"2017-09-19T21:00Z","a":15.6,"c":15.2,"f":"P","g":"S"},
{"t":"2017-09-19T22:00Z","a":16.2,"c":15.6,"f":"P","g":"S"},
{"t":"2017-09-19T23:00Z","a":15.4,"c":14.6,"f":"P","g":"S"},
{"t":"2017-09-20T00:00Z","a":16.6,"c":16.0,"f":"P","g":"S"},
{"t":"2017-09-20T01:00Z","a":14.8,"c":14.2,"f":"P","g":"S"},
{"t":"2017-09-20T02:00Z","a":13.6,"c":12.8,"f":"P","g":"S"},
{"t":"2017-09-20T03:00Z","a":12.4,"c":11.8,"f":"P","g":"S"},
{"t":"2017-09-20T04:00Z","a":14.6,"c":13.8,"f":"P","g":"S"},
{"t":"2017-09-20T05:00Z","a":13.2,"c":12.4,"f":"P","g":"S"},
{"t":"2017-09-20T06:00Z","a":12.8,"c":12.0,"f":"P","g":"S"},
{"t":"2017-09-20T07:00Z","a":11.0,"c":11.2,"f":"P","g":"S"},
{"t":"2017-09-20T08:00Z","a":10.6,"c":11.6,"f":"P","g":"S"},
{"t":"2017-09-20T09:00Z","a":14.0,"c":13.6,"f":"P","g":"S"},
{"t":"2017-09-20T10:00Z","a":13.4,"c":14.0,"f":"P","g":"P"},
{"t":"2017-09-20T11:00Z","a":10.2,"c":12.0,"f":"P","g":"P"},
{"t":"2017-09-20T12:00Z","a":9.2,"c":10.8,"f":"P","g":"P"},
{"t":"2017-09-20T13:00Z","a":5.4,"c":6.0,"f":"P","g":"P"},
{"t":"2017-09-20T14:00Z","a":1.8,"c":1.8,"f":"P","g":"P"},
{"t":"2017-09-20T15:00Z","a":0.8,"c":1.0,"f":"P","g":"P"},
{"t":"2017-09-20T16:00Z","a":3.2,"c":3.0,"f":"P","g":"P"},
{"t":"2017-09-20T17:00Z","a":6.4,"c":4.0,"f":"P","g":"P"},
{"t":"2017-09-20T18:00Z","a":10.4,"c":10.0,"f":"P","g":"P"},
{"t":"2017-09-20T19:00Z","a":12.2,"c":11.6,"f":"P","g":"P"},
{"t":"2017-09-20T20:00Z","a":13.8,"c":13.0,"f":"P","g":"P"},
{"t":"2017-09-20T21:00Z","a":12.6,"c":12.0,"f":"P","g":"P"},
{"t":"2017-09-20T22:00Z","a":11.2,"c":10.8,"f":"P","g":"P"},
{"t":"2017-09-20T23:00Z","a":12.4,"c":11.8,"f":"P","g":"P"},
{"t":"2017-09-21T00:00Z","a":12.0,"c":11.4,"f":"P","g":"P"},
{"t":"2017-09-21T01:00Z","a":11.4,"c":10.8,"f":"P","g":"P"},
{"t":"2017-09-21T02:00Z","a":10.6,"c":10.2,"f":"P","g":"P"},
{"t":"2017-09-21T03:00Z","a":12.2,"c":11.6,"f":"P","g":"P"},
{"t":"2017-09-21T04:00Z","a":14.2,"c":13.2,"f":"P","g":"P"},
{"t":"2017-09-21T05:00Z","a":12.6,"c":12.0,"f":"P","g":"P"},
{"t":"2017-09-21T06:00Z","a":11.6,"c":11.0,"f":"P","g":"P"},
{"t":"2017-09-21T07:00Z","a":10.8,"c":10.4,"f":"P","g":"P"},
{"t":"2017-09-21T08:00Z","a":10.4,"c":10.0,"f":"P","g":"P"},
{"t":"2017-09-21T09:00Z","a":11.4,"c":10.8,"f":"P","g":"P"},
{"t":"2017-09-21T10:00Z","a":11.0,"c":10.4,"f":"P","g":"P"},
{"t":"2017-09-21T11:00Z","a":10.2,"c":9.7,"f":"P","g":"P"},
{"t":"2017-09-21T12:00Z","a":9.4,"c":9.0,"f":"P","g":"P"},
{"t":"2017-09-21T13:00Z","a":9.0,"c":8.6,"f":"P","g":"P"},
{"t":"2017-09-21T14:00Z","a":8.6,"c":8.0,"f":"P","g":"P"},
{"t":"2017-09-21T15:00Z","a":7.6,"c":7.0,"f":"P","g":"P"},
{"t":"2017-09-21T16:00Z","a":6.8,"c":6.2,"f":"P","g":"P"},
{"t":"2017-09-21T17:00Z","a":5.8,"c":5.4,"f":"P","g":"P"},
{"t":"2017-09-21T18:00Z","a":5.0,"c":4.6,"f":"P","g":"P"},
{"t":"2017-09-21T19:00Z","a":4.2,"c":4.0,"f":"P","g":"P"},
{"t":"2017-09-21T20:00Z","a":3.6,"c":3.4,"f":"P","g":"P"},
{"t":"2017-09-21T21:00Z","a":2.4,"c":2.4,"f":"P","g":"P"},
{"t":"2017-09-21T22:00Z","a":1.2,"c":1.2,"f":"P","g":"P"},
{"t":"2017-09-21T23:00Z","a":2.0,"c":2.0,"f":"P","g":"P"},
{"t":"2017-09-22T00:00Z","a":2.6,"c":2.4,"f":"P","g":"P"},
{"t":"2017-09-22T01:00Z","a":1.8,"c":1.6,"f":"P","g":"P"},
{"t":"2017-09-22T02:00Z","a":0.8,"c":0.8,"f":"P","g":"P"},
{"t":"2017-09-22T03:00Z","a":2.2,"c":2.0,"f":"P","g":"P"},
{"t":"2017-09-22T04:00Z","a":3.8,"c":3.6,"f":"P","g":"P"},
{"t":"2017-09-22T05:00Z","a":6.0,"c":4.8,"f":"P","g":"P"},
{"t":"2017-09-22T06:00Z","a":7.2,"c":5.2,"f":"P","g":"P"},
{"t":"2017-09-22T07:00Z","a":5.4,"c":4.4,"f":"P","g":"P"},
{"t":"2017-09-22T08:00Z","a":4.2,"c":3.6,"f":"P","g":"P"},
{"t":"2017-09-22T09:00Z","a":3.4,"c":3.0,"f":"P","g":"P"},
{"t":"2017-09-22T10:00Z","a":3.0,"c":2.8,"f":"P","g":"P"},
{"t":"2017-09-22T11:00Z","a":3.8,"c":3.4,"f":"P","g":"P"},
{"t":"2017-09-22T12:00Z","a":4.4,"c":4.0,"f":"P","g":"P"},
{"t":"2017-09-22T13:00Z","a":3.2,"c":3.0,"f":"P","g":"P"},
{"t":"2017-09-22T14:00Z","a":2.4,"c":2.2,"f":"P","g":"P"},
{"t":"2017-09-22T15:00Z","a":1.4,"c":1.2,"f":"P","g":"P"},
{"t":"2017-09-22T16:00Z","a":0.4,"c":0.4,"f":"C","g":"C"},
{"t":"2017-09-22T17:00Z","a":1.6,"c":1.6,"f":"P","g":"P"},
{"t":"2017-09-22T18:00Z","a":2.8,"c":2.6,"f":"P","g":"P"},
{"t":"2017-09-22T19:00Z","a":3.6,"c":3.4,"f":"P","g":"P"},
{"t":"2017-09-22T20:00Z","a":5.4,"c":5.0,"f":"P","g":"P"},
{"t":"2017-09-22T21:00Z","a":3.0,"c":2.8,"f":"P","g":"P"},
{"t":"2017-09-22T22:00Z","a":1.6,"c":1.6,"f":"P","g":"P"},
{"t":"2017-09-22T23:00Z","a":1.0,"c":1.0,"f":"P","g":"P"},
{"t":"2017-09-23T00:00Z","a":0.8,"c":0.8,"f":"P","g":"P"},
{"t":"2017-09-23T01:00Z","a":1.4,"c":1.2,"f":"P","g":"P"},
{"t":"2017-09-23T02:00Z","a":1.8,"c":1.8,"f":"P","g":"P"},
{"t":"2017-09-23T03:00Z","a":1.2,"c":1.0,"f":"P","g":"P"},
{"t":"2017-09-23T04:00Z","a":0.3,"c":0.3,"f":"C","g":"C"},
{"t":"2017-09-23T05:00Z","a":1.6,"c":1.6,"f":"P","g":"P"},
{"t":"2017-09-23T06:00Z","a":3.4,"c":3.2,"f":"P","g":"P"},
{"t":"2017-09-23T07:00Z","a":6.0,"c":6.0,"f":"P","g":"P"},
{"t":"2017-09-23T08:00Z","a":8.4,"c":8.4,"f":"P","g":"P"},
{"t":"2017-09-23T09:00Z","a":6.8,"c":6.8,"f":"P","g":"P"},
{"t":"2017-09-23T10:00Z","a":5.6,"c":5.6,"f":"P","g":"P"},
{"t":"2017-09-23T11:00Z","a":5.0,"c":5.0,"f":"P","g":"P"},
{"t":"2017-09-23T12:00Z","a":6.2,"c":6.0,"f":"P","g":"P"},
{"t":"2017-09-23T13:00Z","a":5.6,"c":5.4,"f":"P","g":"P"},
{"t":"2017-09-23T14:00Z","a":4.6,"c":4.4,"f":"P","g":"P"},
{"t":"2017-09-23T15:00Z","a":5.0,"c":4.8,"f":"P","g":"P"},
{"t":"2017-09-23T16:00Z","a":5.4,"c":5.0,"f":"P","g":"P"},
{"t":"2017-09-23T17:00Z","a":4.0,"c":3.6,"f":"P","g":"P"},
{"t":"2017-09-23T18:00Z","a":2.6,"c":2.4,"f":"P","g":"P"},
{"t":"2017-09-23T19:00Z","a":3.0,"c":2.0,"f":"P","g":"P"},
{"t":"2017-09-23T20:00Z","a":3.4,"c":1.8,"f":"P","g":"P"},
{"t":"2017-09-23T21:00Z","a":2.2,"c":1.4,"f":"P","g":"P"},
{"t":"2017-09-23T22:00Z","a":1.4,"c":1.2,"f":"P","g":"P"},
{"t":"2017-09-23T23:00Z","a":2.0,"c":1.6,"f":"P","g":"P"},
{"t":"2017-09-24T00:00Z","a":2.4,"c":2.0,"f":"P","g":"P"},
{"t":"2017-09-24T01:00Z","a":1.6,"c":1.4,"f":"P","g":"P"},
{"t":"2017-09-24T02:00Z","a":0.6,"c":0.8,"f":"P","g":"P"},
{"t":"2017-09-24T03:00Z","a":1.4,"c":1.2,"f":"P","g":"P"},
{"t":"2017-09-24T04:00Z","a":2.2,"c":2.0,"f":"P","g":"P"},
{"t":"2017-09-24T05:00Z","a":3.0,"c":2.6,"f":"P","g":"P"},
{"t":"2017-09-24T06:00Z","a":1.2,"c":1.2,"f":"P","g":"P"},
{"t":"2017-09-24T07:00Z","a":2.0,"c":1.8,"f":"P","g":"P"},
{"t":"2017-09-24T08:00Z","a":2.8,"c":2.4,"f":"P","g":"P"},
{"t":"2017-09-24T09:00Z","a":2.2,"c":2.0,"f":"P","g":"P"},
{"t":"2017-09-24T10:00Z","a":1.6,"c":1.6,"f":"P","g":"P"},
{"t":"2017-09-24T11:00Z","a":3.2,"c":3.0,"f":"P","g":"P"},
{"t":"2017-09-24T12:00Z","a":4.8,"c":4.6,"f":"P","g":"P"},
{"t":"2017-09-24T13:00Z","a":5.2,"c":5.0,"f":"P","g":"P"},
{"t":"2017-09-24T14:00Z","a":5.8,"c":5.4,"f":"P","g":"P"},
{"t":"2017-09-24T15:00Z","a":6.4,"c":6.0,"f":"P","g":"P"},
{"t":"2017-09-24T16:00Z","a":7.0,"c":6.6,"f":"P","g":"P"},
{"t":"2017-09-24T17:00Z","a":5.6,"c":5.2,"f":"P","g":"P"},
{"t":"2017-09-24T18:00Z","a":4.2,"c":3.8,"f":"P","g":"P"},
{"t":"2017-09-24T19:00Z","a":3.2,"c":3.0,"f":"P","g":"P"},
{"t":"2017-09-24T20:00Z","a":2.4,"c":2.4,"f":"P","g":"P"},
{"t":"2017-09-24T21:00Z","a":2.8,"c":2.6,"f":"P","g":"P"},
{"t":"2017-09-24T22:00Z","a":3.6,"c":3.2,"f":"P","g":"P"},
{"t":"2017-09-24T23:00Z","a":2.6,"c":2.4,"f":"P","g":"P"},
{"t":"2017-09-25T00:00Z","a":2.0,"c":2.0,"f":"P","g":"P"},
{"t":"2017-09-25T01:00Z","a":2.6,"c":2.6,"f":"P","g":"P"},
{"t":"2017-09-25T02:00Z","a":3.0,"c":3.0,"f":"P","g":"P"},
{"t":"2017-09-25T03:00Z","a":3.8,"c":3.6,"f":"P","g":"P"},
{"t":"2017-09-25T04:00Z","a":4.6,"c":4.4,"f":"P","g":"P"},
{"t":"2017-09-25T05:00Z","a":5.4,"c":5.6,"f":"P","g":"P"},
{"t":"2017-09-25T06:00Z","a":5.8,"c":6.4,"f":"P","g":"P"},
{"t":"2017-09-25T07:00Z","a":6.8,"c":7.0,"f":"P","g":"P"},
{"t":"2017-09-25T08:00Z","a":7.2,"c":7.0,"f":"P","g":"P"},
{"t":"2017-09-25T09:00Z","a":6.6,"c":7.4,"f":"P","g":"P"},
{"t":"2017-09-25T10:00Z","a":6.6,"c":7.2,"f":"P","g":"P"},
{"t":"2017-09-25T11:00Z","a":7.8,"c":7.8,"f":"P","g":"P"},
{"t":"2017-09-25T12:00Z","a":8.8,"c":8.4,"f":"P","g":"P"},
{"t":"2017-09-25T13:00Z","a":9.2,"c":9.0,"f":"P","g":"P"},
{"t":"2017-09-25T14:00Z","a":9.6,"c":9.6,"f":"P","g":"P"},
{"t":"2017-09-25T15:00Z","a":10.2,"c":10.0,"f":"P","g":"P"},
{"t":"2017-09-25T16:00Z","a":10.6,"c":10.2,"f":"P","g":"P"},
{"t":"2017-09-25T17:00Z","a":10.0,"c":9.6,"f":"P","g":"P"},
{"t":"2017-09-25T18:00Z","a":9.4,"c":9.0,"f":"P","g":"P"},
{"t":"2017-09-25T19:00Z","a":8.6,"c":8.2,"f":"P","g":"P"},
{"t":"2017-09-25T20:00Z","a":7.8,"c":7.4,"f":"P","g":"P"},
{"t":"2017-09-25T21:00Z","a":6.4,"c":6.2,"f":"P","g":"P"},
{"t":"2017-09-25T22:00Z","a":5.2,"c":5.0,"f":"P","g":"P"},
{"t":"2017-09-25T23:00Z","a":3.4,"c":3.2,"f":"P","g":"P"},
{"t":"2017-09-26T00:00Z","a":1.6,"c":1.4,"f":"P","g":"P"},
{"t":"2017-09-26T01:00Z","a":0.8,"c":0.8,"f":"P","g":"P"},
{"t":"2017-09-26T02:00Z","a":0.4,"c":0.3,"f":"C","g":"C"},
{"t":"2017-09-26T03:00Z","a":2.0,"c":2.0,"f":"P","g":"P"},
{"t":"2017-09-26T04:00Z","a":3.8,"c":3.6,"f":"P","g":"P"},
{"t":"2017-09-26T05:00Z","a":5.4,"c":5.2,"f":"P","g":"P"},
{"t":"2017-09-26T06:00Z","a":7.0,"c":6.8,"f":"P","g":"P"},
{"t":"2017-09-26T07:00Z","a":7.8,"c":7.6,"f":"P","g":"P"},
{"t":"2017-09-26T08:00Z","a":8.2,"c":7.8,"f":"P","g":"P"},
{"t":"2017-09-26T09:00Z","a":8.0,"c":7.6,"f":"P","g":"P"},
{"t":"2017-09-26T10:00Z","a":7.8,"c":7.4,"f":"P","g":"P"},
{"t":"2017-09-26T11:00Z","a":7.0,"c":6.6,"f":"P","g":"P"},
{"t":"2017-09-26T12:00Z","a":6.4,"c":6.0,"f":"P","g":"P"},
{"t":"2017-09-26T13:00Z","a":5.6,"c":5.4,"f":"P","g":"P"},
{"t":"2017-09-26T14:00Z","a":5.0,"c":4.8,"f":"P","g":"P"},
{"t":"2017-09-26T15:00Z","a":4.4,"c":4.2,"f":"P","g":"P"},
{"t":"2017-09-26T16:00Z","a":4.0,"c":3.8,"f":"P","g":"P"},
{"t":"2017-09-26T17:00Z","a":3.0,"c":2.8,"f":"P","g":"P"},
{"t":"2017-09-26T18:00Z","a":2.0,"c":2.0,"f":"P","g":"P"},
{"t":"2017-09-26T19:00Z","a":2.6,"c":2.4,"f":"P","g":"P"},
{"t":"2017-09-26T20:00Z","a":3.0,"c":2.8,"f":"P","g":"P"},
{"t":"2017-09-26T21:00Z","a":2.2,"c":2.0,"f":"P","g":"P"},
{"t":"2017-09-26T22:00Z","a":1.4,"c":1.4,"f":"P","g":"P"},
{"t":"2017-09-26T23:00Z","a":1.8,"c":1.6,"f":"P","g":"P"},
{"t":"2017-09-27T00:00Z","a":2.4,"c":2.2,"f":"P","g":"P"},
{"t":"2017-09-27T01:00Z","a":3.6,"c":3.4,"f":"P","g":"P"},
{"t":"2017-09-27T02:00Z","a":5.2,"c":4.8,"f":"P","g":"P"},
{"t":"2017-09-27T03:00Z","a":4.0,"c":3.8,"f":"P","g":"P"},
{"t":"2017-09-27T04:00Z","a":3.0,"c":2.8,"f":"P","g":"P"},
{"t":"2017-09-27T05:00Z","a":2.2,"c":2.0,"f":"P","g":"P"},
{"t":"2017-09-27T06:00Z","a":1.6,"c":1.6,"f":"P","g":"P"},
{"t":"2017-09-27T07:00Z","a":2.2,"c":2.0,"f":"P","g":"P"},
{"t":"2017-09-27T08:00Z","a":2.8,"c":2.6,"f":"P","g":"P"},
{"t":"2017-09-27T09:00Z","a":3.2,"c":3.0,"f":"P","g":"P"},
{"t":"2017-09-27T10:00Z","a":3.6,"c":3.4,"f":"P","g":"P"},
{"t":"2017-09-27T11:00Z","a":2.4,"c":2.2,"f":"P","g":"P"},
{"t":"2017-09-27T12:00Z","a":1.2,"c":1.2,"f":"P","g":"P"},
{"t":"2017-09-27T13:00Z","a":1.8,"c":1.8,"f":"P","g":"P"},
{"t":"2017-09-27T14:00Z","a":2.4,"c":2.2,"f":"P","g":"P"},
{"t":"2017-09-27T15:00Z","a":1.4,"c":1.4,"f":"P","g":"P"},
{"t":"2017-09-27T16:00Z","a":0.6,"c":0.6,"f":"P","g":"P"},
{"t":"2017-09-27T17:00Z","a":1.2,"c":1.2,"f":"P","g":"P"},
{"t":"2017-09-27T18:00Z","a":1.8,"c":1.8,"f":"P","g":"P"},
{"t":"2017-09-27T19:00Z","a":3.0,"c":2.8,"f":"P","g":"P"},
{"t":"2017-09-27T20:00Z","a":2.8,"c":2.6,"f":"P","g":"P"},
{"t":"2017-09-27T21:00Z","a":2.0,"c":1.8,"f":"P","g":"P"},
{"t":"2017-09-27T22:00Z","a":1.2,"c":1.2,"f":"P","g":"P"},
{"t":"2017-09-27T23:00Z","a":2.2,"c":2.0,"f":"P","g":"P"},
{"t":"2017-09-28T00:00Z","a":3.0,"c":2.8,"f":"P","g":"P"},
{"t":"2017-09-28T01:00Z","a":2.4,"c":2.2,"f":"P","g":"P"},
{"t":"2017-09-28T02:00Z","a":1.6,"c":1.6,"f":"P","g":"P"},
{"t":"2017-09-28T03:00Z","a":2.0,"c":2.0,"f":"P","g":"P"},
{"t":"2017-09-28T04:00Z","a":2.6,"c":2.4,"f":"P","g":"P"},
{"t":"2017-09-28T05:00Z","a":1.8,"c":1.8,"f":"P","g":"P"},
{"t":"2017-09-28T06:00Z","a":1.0,"c":1.0,"f":"P","g":"P"},
{"t":"2017-09-28T07:00Z","a":2.0,"c":1.8,"f":"P","g":"P"},
{"t":"2017-09-28T08:00Z","a":3.4,"c":3.2,"f":"P","g":"P"},
{"t":"2017-09-28T09:00Z","a":4.2,"c":4.0,"f":"P","g":"P"},
{"t":"2017-09-28T10:00Z","a":5.0,"c":4.6,"f":"P","g":"P"},
{"t":"2017-09-28T11:00Z","a":3.8,"c":3.4,"f":"P","g":"P"},
{"t":"2017-09-28T12:00Z","a":2.6,"c":2.4,"f":"P","g":"P"},
{"t":"2017-09-28T13:00Z","a":1.6,"c":1.6,"f":"P","g":"P"},
{"t":"2017-09-28T14:00Z","a":1.0,"c":1.0,"f":"P","g":"P"},
{"t":"2017-09-28T15:00Z","a":0.8,"c":0.8,"f":"P","g":"P"},
{"t":"2017-09-28T16:00Z","a":0.4,"c":0.3,"f":"C","g":"C"},
{"t":"2017-09-28T17:00Z","a":1.2,"c":1.2,"f":"P","g":"P"},
{"t":"2017-09-28T18:00Z","a":0.8,"c":0.8,"f":"P","g":"P"},
{"t":"2017-09-28T19:00Z","a":1.2,"c":1.2,"f":"P","g":"P"},
{"t":"2017-09-28T20:00Z","a":1.6,"c":1.6,"f":"P","g":"P"},
{"t":"2017-09-28T21:00Z","a":2.4,"c":2.2,"f":"P","g":"P"},
{"t":"2017-09-28T22:00Z","a":2.0,"c":2.0,"f":"P","g":"P"},
{"t":"2017-09-28T23:00Z","a":2.8,"c":2.6,"f":"P","g":"P"},
{"t":"2017-09-29T00:00Z","a":3.2,"c":3.0,"f":"P","g":"P"},
{"t":"2017-09-29T01:00Z","a":4.2,"c":4.0,"f":"P","g":"P"},
{"t":"2017-09-29T02:00Z","a":2.0,"c":2.0,"f":"P","g":"P"},
{"t":"2017-09-29T03:00Z","a":1.4,"c":1.4,"f":"P","g":"P"},
{"t":"2017-09-29T04:00Z","a":4.0,"c":3.8,"f":"P","g":"P"},
{"t":"2017-09-29T05:00Z","a":5.4,"c":5.0,"f":"P","g":"P"},
{"t":"2017-09-29T06:00Z","a":6.4,"c":6.0,"f":"P","g":"P"},
{"t":"2017-09-29T07:00Z","a":7.2,"c":6.8,"f":"P","g":"P"},
{"t":"2017-09-29T08:00Z","a":7.6,"c":7.2,"f":"P","g":"P"},
{"t":"2017-09-29T09:00Z","a":6.8,"c":6.4,"f":"P","g":"P"},
{"t":"2017-09-29T10:00Z","a":6.2,"c":5.8,"f":"P","g":"P"},
{"t":"2017-09-29T11:00Z","a":7.8,"c":7.4,"f":"P","g":"P"},
{"t":"2017-09-29T12:00Z","a":2.2,"c":2.1,"f":"P","g":"P"},
{"t":"2017-09-29T13:00Z","a":6.4,"c":6.0,"f":"P","g":"P"},
{"t":"2017-09-29T14:00Z","a":8.0,"c":7.6,"f":"P","g":"P"},
{"t":"2017-09-29T15:00Z","a":8.8,"c":8.4,"f":"P","g":"P"},
{"t":"2017-09-29T16:00Z","a":7.0,"c":6.6,"f":"P","g":"P"},
{"t":"2017-09-29T17:00Z","a":8.6,"c":8.2,"f":"P","g":"P"},
{"t":"2017-09-29T18:00Z","a":9.8,"c":9.3,"f":"P","g":"P"},
{"t":"2017-09-29T19:00Z","a":11.2,"c":10.6,"f":"P","g":"P"},
{"t":"2017-09-29T20:00Z","a":10.8,"c":10.3,"f":"P","g":"P"},
{"t":"2017-09-29T21:00Z","a":12.6,"c":12.0,"f":"P","g":"P"},
{"t":"2017-09-29T22:00Z","a":14.2,"c":13.5,"f":"P","g":"P"},
{"t":"2017-09-29T23:00Z","a":8.4,"c":8.0,"f":"P","g":"P"}
 ]
},
"vconcat": [
 {
  "width": 1155, "height": 137.5,
  "title": {"text": "Flagged data. Resolution of data is 10minutely", "anchor": "start", "frame": "group", "fontSize": 10.5, "offset": 3},
  "layer": [
   {"data": {"name": "hminor"}, "mark": {"type": "rule", "color": "#FFFFFF", "strokeWidth": 0.55}, "encoding": {"y": {"field": "y", "type": "quantitative", "scale": {"domain": [-0.88, 21.22], "nice": false, "zero": false}, "axis": {"values": [0, 5, 10, 15], "title": null, "labelPadding": 2, "grid": true}}}},
   {"data": {"name": "vminor"}, "mark": {"type": "rule", "color": "#FFFFFF", "strokeWidth": 0.55}, "encoding": {"x": {"field": "t", "type": "temporal", "scale": {"type": "utc", "domain": [1504099440000, 1506850560000]}, "axis": {"values": [1504224000000, 1504569600000, 1504915200000, 1505260800000, 1505606400000, 1505952000000, 1506297600000, 1506643200000], "labels": false, "ticks": false, "title": null, "grid": true, "minExtent": 0, "maxExtent": 0}}}},
   {"data": {"name": "ws"},
    "encoding": {
     "x": {"field": "t", "type": "temporal", "scale": {"type": "utc", "domain": [1504099440000, 1506850560000]}, "axis": {"values": [1504224000000, 1504569600000, 1504915200000, 1505260800000, 1505606400000, 1505952000000, 1506297600000, 1506643200000], "labels": false, "ticks": false, "title": null, "grid": true, "minExtent": 0, "maxExtent": 0}},
     "y": {"field": "a", "type": "quantitative", "scale": {"domain": [-0.88, 21.22], "nice": false, "zero": false}, "axis": {"values": [0, 5, 10, 15], "title": null, "labelPadding": 2, "grid": true}}
    },
    "layer": [
     {"mark": {"type": "line", "color": "#FFFFFF", "strokeWidth": 0.5}, "encoding": {}},
     {"transform": [{"filter": {"and": [{"field": "f", "oneOf": ["P", "C"]}, {"field": "t", "lte": {"year": 2017, "month": 9, "date": 14, "hours": 17, "utc": true}}]}}], "mark": {"type": "line", "color": "#006400", "strokeWidth": 2}, "encoding": {}},
     {"transform": [{"filter": {"and": [{"field": "f", "oneOf": ["P", "C"]}, {"field": "t", "gte": {"year": 2017, "month": 9, "date": 19, "hours": 20, "utc": true}}]}}], "mark": {"type": "line", "color": "#006400", "strokeWidth": 2}, "encoding": {}},
     {"mark": {"type": "circle", "size": 32, "opacity": 1}, "encoding": {"color": {"field": "f", "type": "nominal", "scale": {"domain": ["P", "S", "F", "C", "N"], "range": ["#006400", "#FFA500", "#FF0000", "#008B00", "#0000FF"]}, "legend": {"title": "\u00a0", "titleFontSize": 7, "titlePadding": 1, "orient": "none", "legendX": -1, "legendY": 473, "symbolType": "circle", "symbolSize": 320, "symbolStrokeWidth": 0, "labelFontSize": 16, "labelColor": "#000000", "rowPadding": 3.5, "labelOffset": 3, "padding": 9, "strokeColor": "#000000", "fillColor": "#FFFFFF", "labelLimit": 400, "labelExpr": "datum.value == 'P' ? 'Pass\u00a0\u00a080.2%' : datum.value == 'S' ? 'Suspect\u00a0\u00a00.6%' : datum.value == 'F' ? 'Fail\u00a0\u00a017.8%' : datum.value == 'C' ? 'Calm\u00a0\u00a01.5%' : 'Not evaluated by 3 or more tests\u00a0\u00a0\u00a00%'", "encode": {"legend": {"update": {"strokeWidth": {"value": 2}}}}}}}}
    ]
   },
   {"data": {"values": [{}]}, "mark": {"type": "rect", "color": "#D9D9D9"}, "encoding": {"y": {"datum": 18.86, "type": "quantitative", "scale": {"domain": [-0.88, 21.22], "nice": false, "zero": false}}, "y2": {"datum": 21.22}}},
   {"data": {"values": [{}]}, "mark": {"type": "text", "fontSize": 16, "color": "#1A1A1A", "font": "Liberation Sans"}, "encoding": {"y": {"datum": 20.04, "type": "quantitative", "scale": {"domain": [-0.88, 21.22], "nice": false, "zero": false}}, "text": {"value": "Wind speed at 62 m agl of sensor 1"}}}
  ]
 },
 {
  "width": 1155, "height": 137.5,
  "layer": [
   {"data": {"name": "hminor"}, "mark": {"type": "rule", "color": "#FFFFFF", "strokeWidth": 0.55}, "encoding": {"y": {"field": "y", "type": "quantitative", "scale": {"domain": [-0.88, 21.22], "nice": false, "zero": false}, "axis": {"values": [0, 5, 10, 15], "title": "Wind speed (m s⁻¹)", "titleFontSize": 23, "titlePadding": 6, "titleY": 72, "labelPadding": 2, "grid": true}}}},
   {"data": {"name": "vminor"}, "mark": {"type": "rule", "color": "#FFFFFF", "strokeWidth": 0.55}, "encoding": {"x": {"field": "t", "type": "temporal", "scale": {"type": "utc", "domain": [1504099440000, 1506850560000]}, "axis": {"values": [1504224000000, 1504569600000, 1504915200000, 1505260800000, 1505606400000, 1505952000000, 1506297600000, 1506643200000], "labels": false, "ticks": false, "title": null, "grid": true, "minExtent": 0, "maxExtent": 0}}}},
   {"data": {"name": "ws"},
    "encoding": {
     "x": {"field": "t", "type": "temporal", "scale": {"type": "utc", "domain": [1504099440000, 1506850560000]}, "axis": {"values": [1504224000000, 1504569600000, 1504915200000, 1505260800000, 1505606400000, 1505952000000, 1506297600000, 1506643200000], "labels": false, "ticks": false, "title": null, "grid": true, "minExtent": 0, "maxExtent": 0}},
     "y": {"field": "a", "type": "quantitative", "scale": {"domain": [-0.88, 21.22], "nice": false, "zero": false}, "axis": {"values": [0, 5, 10, 15], "title": "Wind speed (m s⁻¹)", "titleFontSize": 23, "titlePadding": 6, "titleY": 72, "labelPadding": 2, "grid": true}}
    },
    "layer": [
     {"mark": {"type": "line", "color": "#FFFFFF", "strokeWidth": 0.5}, "encoding": {}},
     {"transform": [{"filter": {"and": [{"field": "f", "oneOf": ["P", "C"]}, {"field": "t", "lte": {"year": 2017, "month": 9, "date": 14, "hours": 17, "utc": true}}]}}], "mark": {"type": "line", "color": "#006400", "strokeWidth": 2}, "encoding": {}},
     {"transform": [{"filter": {"and": [{"field": "f", "oneOf": ["P", "C"]}, {"field": "t", "gte": {"year": 2017, "month": 9, "date": 19, "hours": 20, "utc": true}}]}}], "mark": {"type": "line", "color": "#006400", "strokeWidth": 2}, "encoding": {}},
     {"mark": {"type": "circle", "size": 32, "opacity": 1}, "encoding": {"color": {"field": "f", "type": "nominal", "scale": {"domain": ["P", "S", "F", "C", "N"], "range": ["#006400", "#FFA500", "#FF0000", "#008B00", "#0000FF"]}, "legend": {"title": "\u00a0", "titleFontSize": 7, "titlePadding": 1, "orient": "none", "legendX": -1, "legendY": 473, "symbolType": "circle", "symbolSize": 320, "symbolStrokeWidth": 0, "labelFontSize": 16, "labelColor": "#000000", "rowPadding": 3.5, "labelOffset": 3, "padding": 9, "strokeColor": "#000000", "fillColor": "#FFFFFF", "labelLimit": 400, "labelExpr": "datum.value == 'P' ? 'Pass\u00a0\u00a080.2%' : datum.value == 'S' ? 'Suspect\u00a0\u00a00.6%' : datum.value == 'F' ? 'Fail\u00a0\u00a017.8%' : datum.value == 'C' ? 'Calm\u00a0\u00a01.5%' : 'Not evaluated by 3 or more tests\u00a0\u00a0\u00a00%'", "encode": {"legend": {"update": {"strokeWidth": {"value": 2}}}}}}}}
    ]
   },
   {"data": {"values": [{}]}, "mark": {"type": "rect", "color": "#D9D9D9"}, "encoding": {"y": {"datum": 18.86, "type": "quantitative", "scale": {"domain": [-0.88, 21.22], "nice": false, "zero": false}}, "y2": {"datum": 21.22}}},
   {"data": {"values": [{}]}, "mark": {"type": "text", "fontSize": 16, "color": "#1A1A1A", "font": "Liberation Sans"}, "encoding": {"y": {"datum": 20.04, "type": "quantitative", "scale": {"domain": [-0.88, 21.22], "nice": false, "zero": false}}, "text": {"value": "Wind speed at 45 m agl of sensor 1"}}}
  ]
 },
 {
  "width": 1155, "height": 137.5,
  "layer": [
   {"data": {"name": "hminor"}, "mark": {"type": "rule", "color": "#FFFFFF", "strokeWidth": 0.55}, "encoding": {"y": {"field": "y", "type": "quantitative", "scale": {"domain": [-0.88, 21.22], "nice": false, "zero": false}, "axis": {"values": [0, 5, 10, 15], "title": null, "labelPadding": 2, "grid": true}}}},
   {"data": {"name": "vminor"}, "mark": {"type": "rule", "color": "#FFFFFF", "strokeWidth": 0.55}, "encoding": {"x": {"field": "t", "type": "temporal", "scale": {"type": "utc", "domain": [1504099440000, 1506850560000]}, "axis": {"values": [1504224000000, 1504569600000, 1504915200000, 1505260800000, 1505606400000, 1505952000000, 1506297600000, 1506643200000], "format": "%d %b %Y", "labelFontSize": 19, "labelFlush": false, "labelOverlap": false, "title": "UTC time", "labelPadding": 0, "titlePadding": -2, "grid": true}}}},
   {"data": {"name": "ws"},
    "encoding": {
     "x": {"field": "t", "type": "temporal", "scale": {"type": "utc", "domain": [1504099440000, 1506850560000]}, "axis": {"values": [1504224000000, 1504569600000, 1504915200000, 1505260800000, 1505606400000, 1505952000000, 1506297600000, 1506643200000], "format": "%d %b %Y", "labelFontSize": 19, "labelFlush": false, "labelOverlap": false, "title": "UTC time", "labelPadding": 0, "titlePadding": -2, "grid": true}},
     "y": {"field": "c", "type": "quantitative", "scale": {"domain": [-0.88, 21.22], "nice": false, "zero": false}, "axis": {"values": [0, 5, 10, 15], "title": null, "labelPadding": 2, "grid": true}}
    },
    "layer": [
     {"mark": {"type": "line", "color": "#FFFFFF", "strokeWidth": 0.5}, "encoding": {}},
     {"transform": [{"filter": {"and": [{"field": "g", "oneOf": ["P", "C"]}, {"field": "t", "lte": {"year": 2017, "month": 9, "date": 14, "hours": 17, "utc": true}}]}}], "mark": {"type": "line", "color": "#006400", "strokeWidth": 2}, "encoding": {}},
     {"transform": [{"filter": {"and": [{"field": "g", "oneOf": ["P", "C"]}, {"field": "t", "gte": {"year": 2017, "month": 9, "date": 19, "hours": 20, "utc": true}}]}}], "mark": {"type": "line", "color": "#006400", "strokeWidth": 2}, "encoding": {}},
     {"mark": {"type": "circle", "size": 32, "opacity": 1}, "encoding": {"color": {"field": "g", "type": "nominal", "scale": {"domain": ["P", "S", "F", "C", "N"], "range": ["#006400", "#FFA500", "#FF0000", "#008B00", "#0000FF"]}, "legend": {"title": "\u00a0", "titleFontSize": 7, "titlePadding": 1, "orient": "none", "legendX": -1, "legendY": 473, "symbolType": "circle", "symbolSize": 320, "symbolStrokeWidth": 0, "labelFontSize": 16, "labelColor": "#000000", "rowPadding": 3.5, "labelOffset": 3, "padding": 9, "strokeColor": "#000000", "fillColor": "#FFFFFF", "labelLimit": 400, "labelExpr": "datum.value == 'P' ? 'Pass\u00a0\u00a080.2%' : datum.value == 'S' ? 'Suspect\u00a0\u00a00.6%' : datum.value == 'F' ? 'Fail\u00a0\u00a017.8%' : datum.value == 'C' ? 'Calm\u00a0\u00a01.5%' : 'Not evaluated by 3 or more tests\u00a0\u00a0\u00a00%'", "encode": {"legend": {"update": {"strokeWidth": {"value": 2}}}}}}}}
    ]
   },
   {"data": {"values": [{}]}, "mark": {"type": "rect", "color": "#D9D9D9"}, "encoding": {"y": {"datum": 18.86, "type": "quantitative", "scale": {"domain": [-0.88, 21.22], "nice": false, "zero": false}}, "y2": {"datum": 21.22}}},
   {"data": {"values": [{}]}, "mark": {"type": "text", "fontSize": 16, "color": "#1A1A1A", "font": "Liberation Sans"}, "encoding": {"y": {"datum": 20.04, "type": "quantitative", "scale": {"domain": [-0.88, 21.22], "nice": false, "zero": false}}, "text": {"value": "Wind speed at 31 m agl of sensor 1"}}},
   {"data": {"values": [{}]}, "mark": {"type": "text", "fontSize": 19.5, "color": "#000000", "font": "Liberation Sans"}, "encoding": {"x": {"datum": 1506500640000, "type": "temporal", "scale": {"type": "utc", "domain": [1504099440000, 1506850560000]}}, "y": {"datum": -31.3, "type": "quantitative", "scale": {"domain": [-0.88, 21.22], "nice": false, "zero": false}}, "text": {"value": "0% of data are missing"}}}
  ]
 }
]
}
